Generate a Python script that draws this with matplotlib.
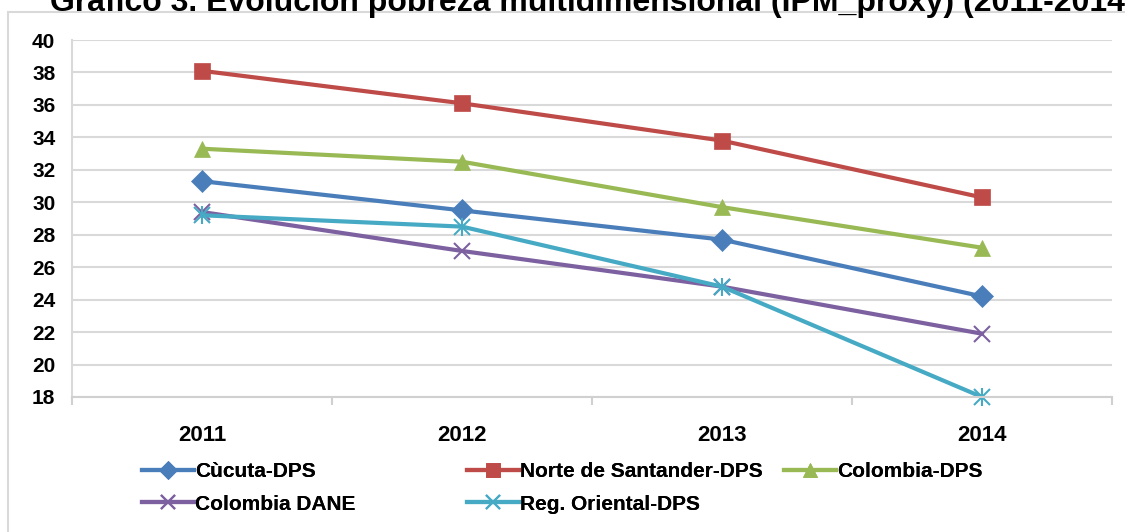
import matplotlib
matplotlib.use("Agg")
import matplotlib.pyplot as plt
from matplotlib.patches import Rectangle

years = ["2011", "2012", "2013", "2014"]
cucuta = [31.3, 29.5, 27.7, 24.2]
norte = [38.1, 36.1, 33.8, 30.3]
colombia_dps = [33.3, 32.5, 29.7, 27.2]
colombia_dane = [29.4, 27.0, 24.8, 21.9]
reg_oriental = [29.2, 28.5, 24.8, 18.0]
title = "Gráfico 3. Evolución pobreza multidimensional (IPM_proxy) (2011-2014)"

fam = "Liberation Sans"
plt.rcParams['font.family'] = [fam, 'DejaVu Sans']

fig = plt.figure(figsize=(11.25, 5.32), dpi=100)
W, H = 1125, 532
ax = fig.add_axes([72 / W, 1 - 397 / H, (1112 - 72) / W, (397 - 40) / H])

x = list(range(len(years)))
series = [
    ("Cùcuta-DPS", cucuta, "#4a7ebb", "D", 11),
    ("Norte de Santander-DPS", norte, "#be4b48", "s", 12),
    ("Colombia-DPS", colombia_dps, "#98b954", "^", 12),
    ("Colombia DANE", colombia_dane, "#7d60a0", "x", 12),
    ("Reg. Oriental-DPS", reg_oriental, "#46aac5", "x", 12),
]
handles = []
for label, vals, col, mk, ms in series:
    h, = ax.plot(x, vals, color=col, lw=3, marker=mk, ms=ms,
                 mew=1.5 if mk == "x" else 0.5, mfc=col, mec=col, label=label,
                 clip_on=False)
    if label.startswith("Reg."):
        ax.plot(x, vals, color=col, lw=0, marker="|", ms=13, mew=1.5, clip_on=False)
    handles.append(h)

ax.set_xlim(-0.5, 3.5)
ax.set_ylim(18, 40)
ax.set_yticks(range(18, 41, 2))
ax.set_yticklabels([str(v) for v in range(18, 41, 2)], fontsize=15, fontweight="bold")
ax.set_xticks(x)
ax.set_xticklabels(years, fontsize=16, fontweight="bold")
ax.tick_params(axis="y", length=0, pad=12)
ax.tick_params(axis="x", length=0, pad=20)
ax.set_xticks([-0.5, 0.5, 1.5, 2.5, 3.5], minor=True)
ax.tick_params(axis="x", which="minor", length=6, color="#d0d0d0", width=1.5)
ax.grid(axis="y", color="#d9d9d9", lw=1.5)
ax.set_axisbelow(True)
for s in ["top", "right"]:
    ax.spines[s].set_visible(False)
ax.spines["left"].set_color("#d9d9d9")
ax.spines["bottom"].set_color("#d0d0d0")
ax.spines["left"].set_linewidth(1.5)
ax.spines["bottom"].set_linewidth(1.5)

# legend: three columns at Excel-like positions
cols = [[handles[0], handles[3]], [handles[1], handles[4]], [handles[2]]]
xpos = [142, 467, 784]
for hs, xp in zip(cols, xpos):
    lg = fig.legend(handles=hs, labels=[h.get_label() for h in hs], ncol=1,
                    loc="upper left", bbox_to_anchor=(xp / W, 1 - 462 / H),
                    frameon=False, prop={"family": [fam], "weight": "bold", "size": 15},
                    handlelength=2.5, handletextpad=0.05, labelspacing=0.65,
                    borderaxespad=0, borderpad=0, markerscale=0.85)
    fig.add_artist(lg)

fig.patches.append(Rectangle((8 / W, -0.05), 1.5, 1.05 - 12 / H, transform=fig.transFigure,
                             fill=False, ec="#d9d9d9", lw=1.5))
fig.text(50 / W, 1 - 11 / H, title, fontsize=23, fontweight="bold", va="baseline", ha="left")

fig.savefig("out.png", dpi=100)
